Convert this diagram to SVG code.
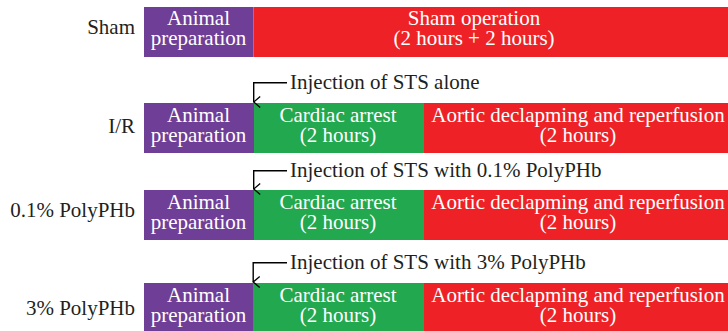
<svg xmlns="http://www.w3.org/2000/svg" width="728" height="331" viewBox="0 0 728 331">
<defs>
<style>
.t{font-family:"Liberation Serif","Times New Roman",serif;font-size:21px;}
.w{fill:#ffffff;text-anchor:middle;}
.k{fill:#231f20;}
.e{text-anchor:end;}
.p{fill:#6f3e96;}
.r{fill:#ee2226;}
.g{fill:#22a84f;}
.c{fill:none;stroke:#000;stroke-width:1.4;}
</style>
<marker id="ah" viewBox="0 0 12 10" refX="6" refY="9" markerWidth="12" markerHeight="10" markerUnits="userSpaceOnUse" orient="auto-start-reverse">
<path d="M0.5,2.5 L6,9 L11.5,2.5" fill="none" stroke="#000" stroke-width="1.3"/>
</marker>
</defs>
<rect width="728" height="331" fill="#fff"/>

<g id="row-sham">
<text class="t k e" x="135" y="34">Sham</text>
<g id="sham-prep"><rect class="p" x="144" y="7" width="109.5" height="50"/>
<text class="t w" x="198.5" y="25">Animal</text><text class="t w" x="198.5" y="45">preparation</text></g>
<g id="sham-op"><rect class="r" x="253.5" y="7" width="474.5" height="50"/>
<text class="t w" x="474" y="25">Sham operation</text><text class="t w" x="474" y="45">(2 hours + 2 hours)</text></g>
</g>

<g id="row-ir">
<text class="t k e" x="135" y="133">I/R</text>
<g id="ir-prep"><rect class="p" x="144" y="103" width="110" height="50"/>
<text class="t w" x="198.5" y="122">Animal</text><text class="t w" x="198.5" y="142">preparation</text></g>
<g id="ir-arrest"><rect class="g" x="254" y="103" width="170" height="50"/>
<text class="t w" x="338" y="122">Cardiac arrest</text><text class="t w" x="338" y="142">(2 hours)</text></g>
<g id="ir-reperf"><rect class="r" x="424" y="103" width="304" height="50"/>
<text class="t w" x="578" y="122">Aortic declapming and reperfusion</text><text class="t w" x="578" y="142">(2 hours)</text></g>
</g>

<g id="row-01">
<text class="t k e" x="135" y="217">0.1% PolyPHb</text>
<g id="p01-prep"><rect class="p" x="144" y="190" width="110" height="50"/>
<text class="t w" x="198.5" y="209">Animal</text><text class="t w" x="198.5" y="229">preparation</text></g>
<g id="p01-arrest"><rect class="g" x="254" y="190" width="170" height="50"/>
<text class="t w" x="338" y="209">Cardiac arrest</text><text class="t w" x="338" y="229">(2 hours)</text></g>
<g id="p01-reperf"><rect class="r" x="424" y="190" width="304" height="50"/>
<text class="t w" x="578" y="209">Aortic declapming and reperfusion</text><text class="t w" x="578" y="229">(2 hours)</text></g>
</g>

<g id="row-3">
<text class="t k e" x="135" y="315">3% PolyPHb</text>
<g id="p3-prep"><rect class="p" x="144" y="283" width="109" height="50"/>
<text class="t w" x="198.5" y="302">Animal</text><text class="t w" x="198.5" y="322">preparation</text></g>
<g id="p3-arrest"><rect class="g" x="253" y="283" width="171" height="50"/>
<text class="t w" x="338" y="302">Cardiac arrest</text><text class="t w" x="338" y="322">(2 hours)</text></g>
<g id="p3-reperf"><rect class="r" x="424" y="283" width="304" height="50"/>
<text class="t w" x="578" y="302">Aortic declapming and reperfusion</text><text class="t w" x="578" y="322">(2 hours)</text></g>
</g>

<g id="injections">
<text class="t k" x="290" y="89">Injection of STS alone</text>
<text class="t k" x="290" y="177">Injection of STS with 0.1% PolyPHb</text>
<text class="t k" x="290" y="269">Injection of STS with 3% PolyPHb</text>
</g>

<g id="connectors">
<path class="c" d="M287,82.7 H253.7 V102" marker-end="url(#ah)"/>
<path class="c" d="M287,170.7 H253.7 V189" marker-end="url(#ah)"/>
<path class="c" d="M287,262.7 H253.2 V282" marker-end="url(#ah)"/>
</g>
</svg>
